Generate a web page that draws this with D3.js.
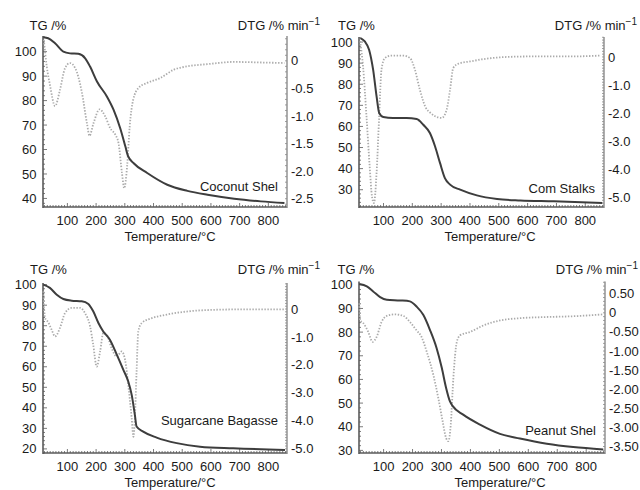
<!DOCTYPE html>
<html>
<head>
<meta charset="utf-8">
<script src="https://cdn.jsdelivr.net/npm/d3@7/dist/d3.min.js"></script>
<style>
  body { margin: 0; background: #fff; }
  text { font-family: "Liberation Sans", Arial, sans-serif; fill: #1a1a1a; }
</style>
</head>
<body>
<svg width="640" height="490"></svg>
<script>
// ---- data: [temperature, value] ----
var coconutTG = [[16,105.9],[33,105.5],[57,103.4],[86,100],[109,99.3],[138,99.1],[162,97.3],[179,93.9],[203,87.8],[238,81.6],[261,76.2],[284,68.7],[302,61.2],[311,57.4],[331,54.4],[378,50.4],[448,45.6],[518,43.1],[588,41.5],[681,39.9],[774,38.8],[856,38.1]];
var coconutDTG = [[18,0.38],[28,-0.10],[39,-0.43],[57,-0.82],[74,-0.53],[92,-0.13],[109,-0.04],[127,-0.13],[150,-0.56],[168,-1.13],[177,-1.36],[191,-1.13],[212,-0.88],[232,-1.01],[249,-1.22],[267,-1.34],[278,-1.49],[290,-2.03],[298,-2.31],[308,-1.91],[317,-1.19],[329,-0.71],[348,-0.49],[378,-0.40],[424,-0.31],[471,-0.16],[518,-0.10],[588,-0.06],[681,-0.02],[774,-0.03],[856,-0.04]];

var cornTG = [[20,101.9],[35,100.3],[50,96.4],[64,86.9],[76,74.2],[85,66.4],[99,64.5],[133,64],[180,64],[215,63.5],[238,60.8],[261,56.9],[279,50.5],[296,42.7],[313,35.5],[331,32.4],[366,30],[424,27.3],[494,25.6],[575,24.9],[691,24.5],[859,23.7]];
var cornDTG = [[19,0.56],[29,-0.33],[41,-2.11],[52,-3.89],[60,-4.96],[67,-5.20],[76,-4.13],[85,-2.11],[93,-0.45],[105,-0.04],[128,0.05],[168,0.05],[192,-0.04],[209,-0.45],[226,-1.16],[247,-1.81],[261,-1.97],[279,-2.11],[302,-2.17],[319,-1.88],[331,-1.16],[342,-0.39],[360,-0.24],[400,-0.16],[459,-0.06],[528,0],[633,0.02],[760,0.02],[853,0.05]];

var bagasseTG = [[16,100],[39,98.4],[63,95.1],[86,93],[115,92.2],[150,91.9],[173,90.6],[190,87],[208,81.3],[225,77.2],[248,73.2],[272,65.9],[295,58.5],[312,52.8],[324,46.3],[335,36.6],[341,30.9],[364,28.4],[411,25.5],[481,22.8],[562,21.1],[678,20.3],[858,19.5]];
var bagasseDTG = [[16,0.63],[22,-0.32],[33,-0.47],[45,-0.74],[57,-0.98],[74,-0.68],[92,-0.14],[115,0.04],[144,0.04],[161,-0.14],[179,-0.62],[190,-1.28],[202,-2.06],[214,-1.52],[225,-0.86],[237,-0.92],[254,-1.40],[272,-1.70],[289,-1.52],[301,-1.82],[312,-2.71],[324,-3.91],[330,-4.57],[335,-3.91],[341,-2.24],[347,-0.80],[359,-0.50],[388,-0.35],[446,-0.20],[516,-0.09],[608,-0.03],[736,-0.01],[858,-0.01]];

var peanutTG = [[16,100.3],[42,99.3],[64,97.2],[88,94.8],[111,93.7],[157,93.4],[191,93],[214,90.8],[237,87.3],[260,81],[283,73.3],[301,64.9],[316,56.4],[329,50.8],[339,48.7],[375,45.1],[433,40.9],[502,37],[571,35],[664,32.8],[755,31.4],[859,30.4]];
var peanutDTG = [[16,0.25],[19,-0.20],[29,-0.26],[47,-0.50],[62,-0.76],[76,-0.63],[93,-0.24],[111,-0.08],[139,-0.04],[168,-0.08],[191,-0.24],[214,-0.46],[231,-0.63],[249,-1.02],[272,-1.63],[289,-2.23],[304,-2.84],[316,-3.28],[324,-3.36],[332,-2.93],[341,-1.71],[353,-0.76],[364,-0.59],[399,-0.50],[445,-0.33],[502,-0.20],[571,-0.14],[664,-0.11],[755,-0.09],[859,-0.04]];

var sampleNames = ["Coconut Shel", "Com Stalks", "Sugarcane Bagasse", "Peanut Shel"];
var tempTicks = [100, 200, 300, 400, 500, 600, 700, 800];
var tgTicks = [
  [40, 50, 60, 70, 80, 90, 100],
  [30, 40, 50, 60, 70, 80, 90, 100],
  [20, 30, 40, 50, 60, 70, 80, 90, 100],
  [30, 40, 50, 60, 70, 80, 90, 100]
];
var dtgTicks = [
  [0, -0.5, -1.0, -1.5, -2.0, -2.5],
  [0, -1.0, -2.0, -3.0, -4.0, -5.0],
  [0, -1.0, -2.0, -3.0, -4.0, -5.0],
  [0.5, 0, -0.5, -1.0, -1.5, -2.0, -2.5, -3.0, -3.5]
];
var dtgDecimals = [1, 1, 1, 2];

// ---- layout (pixels) and axis domains ----
var tempDomain = [15, 865];
var panels = [
  { tg: coconutTG, dtg: coconutDTG, x0: 43, x1: 287, top: 36, bottom: 207, tgDom: [36.5, 106.4], dtgDom: [-2.65, 0.45], nameY: 191, tgLabelX: 29.5, labelY: 30, axisLabelX: 170 },
  { tg: cornTG, dtg: cornDTG, x0: 359, x1: 604, top: 37, bottom: 207, tgDom: [21.8, 102.4], dtgDom: [-5.34, 0.71], nameY: 192.5, tgLabelX: 338, labelY: 29.5, axisLabelX: 490 },
  { tg: bagasseTG, dtg: bagasseDTG, x0: 43, x1: 287, top: 283, bottom: 453, tgDom: [18, 100.8], dtgDom: [-5.15, 0.93], nameY: 425, tgLabelX: 30, labelY: 273.5, axisLabelX: 170 },
  { tg: peanutTG, dtg: peanutDTG, x0: 359, x1: 605, top: 281.5, bottom: 453, tgDom: [28.9, 101.4], dtgDom: [-3.67, 0.82], nameY: 435, tgLabelX: 337.5, labelY: 273.5, axisLabelX: 500 }
];

var svg = d3.select("svg");
var axisColor = "#5a5a5a";

panels.forEach(function(p, i) {
  var g = svg.append("g");

  var x = d3.scaleLinear().domain(tempDomain).range([p.x0, p.x1]);
  var yTG = d3.scaleLinear().domain(p.tgDom).range([p.bottom, p.top]);
  var yDTG = d3.scaleLinear().domain(p.dtgDom).range([p.bottom, p.top]);

  // minor ticks (ruler look)
  var minorX = d3.range(20, 861, 10);
  g.selectAll(".mx").data(minorX).enter().append("line")
    .attr("x1", d => x(d)).attr("x2", d => x(d))
    .attr("y1", p.bottom).attr("y2", d => p.bottom - (d % 100 == 0 ? 4 : 2))
    .attr("stroke", axisColor).attr("stroke-width", 0.8);

  var minorTG = d3.range(Math.ceil(p.tgDom[0] / 2) * 2, p.tgDom[1], 2);
  g.selectAll(".ml").data(minorTG).enter().append("line")
    .attr("x1", p.x0).attr("x2", d => p.x0 + (d % 10 == 0 ? 4 : 2))
    .attr("y1", d => yTG(d)).attr("y2", d => yTG(d))
    .attr("stroke", axisColor).attr("stroke-width", 0.8);

  var minorDTG = d3.range(Math.ceil(p.dtgDom[0] * 10), p.dtgDom[1] * 10, 1).map(d => d / 10);
  g.selectAll(".mr").data(minorDTG).enter().append("line")
    .attr("x1", p.x1).attr("x2", p.x1 - 2)
    .attr("y1", d => yDTG(d)).attr("y2", d => yDTG(d))
    .attr("stroke", "#888").attr("stroke-width", 0.8);

  // axis lines
  g.append("line").attr("x1", p.x0).attr("x2", p.x0).attr("y1", p.top).attr("y2", p.bottom + 1)
    .attr("stroke", axisColor).attr("stroke-width", 1.6);
  g.append("line").attr("x1", p.x0).attr("x2", p.x1).attr("y1", p.bottom).attr("y2", p.bottom)
    .attr("stroke", axisColor).attr("stroke-width", 1.6);
  g.append("line").attr("x1", p.x1).attr("x2", p.x1).attr("y1", p.top).attr("y2", p.bottom + 1)
    .attr("stroke", "#8a8a8a").attr("stroke-width", 1.4);

  // tick labels
  g.selectAll(".tx").data(tempTicks).enter().append("text")
    .attr("x", d => x(d)).attr("y", p.bottom + 17.5)
    .attr("text-anchor", "middle").attr("font-size", 13)
    .text(d => d);

  g.selectAll(".tl").data(tgTicks[i]).enter().append("text")
    .attr("x", p.x0 - 6.5).attr("y", d => yTG(d)).attr("dy", "0.35em")
    .attr("text-anchor", "end").attr("font-size", 13)
    .text(d => d);

  g.selectAll(".tr").data(dtgTicks[i]).enter().append("text")
    .attr("x", p.x1 + 4).attr("y", d => yDTG(d)).attr("dy", "0.35em")
    .attr("text-anchor", "start").attr("font-size", 13)
    .text(d => d == 0 ? "0" : d.toFixed(dtgDecimals[i]));

  // curves
  var dtgLine = d3.line().x(d => x(d[0])).y(d => yDTG(d[1])).curve(d3.curveMonotoneX);
  g.append("path").attr("d", dtgLine(p.dtg))
    .attr("fill", "none").attr("stroke", "#ababab").attr("stroke-width", 1.8)
    .attr("stroke-dasharray", "1.4,1.6");

  var tgLine = d3.line().x(d => x(d[0])).y(d => yTG(d[1])).curve(d3.curveMonotoneX);
  g.append("path").attr("d", tgLine(p.tg))
    .attr("fill", "none").attr("stroke", "#3d3d3d").attr("stroke-width", 2);

  // labels
  g.append("text").attr("x", p.tgLabelX).attr("y", p.labelY).attr("font-size", 13).text("TG /%");

  var dl = g.append("text").attr("x", p.x1 + 33).attr("y", p.labelY)
    .attr("text-anchor", "end").attr("font-size", 13);
  dl.append("tspan").text("DTG /% min");
  dl.append("tspan").attr("dy", -5).attr("font-size", 10).text("\u22121");

  g.append("text").attr("x", p.x1 - 9).attr("y", p.nameY)
    .attr("text-anchor", "end").attr("font-size", 13).text(sampleNames[i]);

  g.append("text").attr("x", p.axisLabelX).attr("y", p.bottom + 34)
    .attr("text-anchor", "middle").attr("font-size", 13).text("Temperature/\u00B0C");
});
</script>
</body>
</html>
